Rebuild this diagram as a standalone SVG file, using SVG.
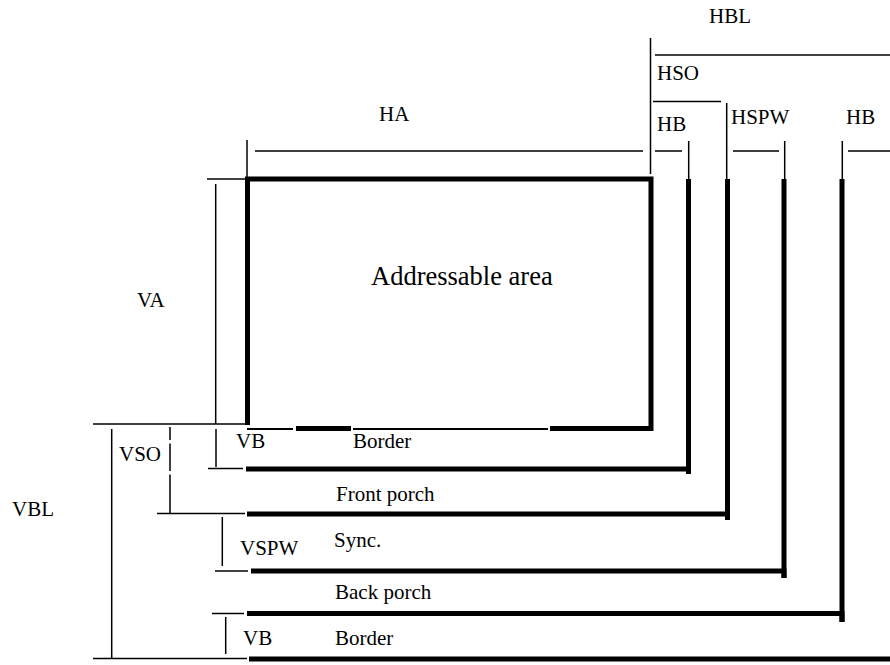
<svg xmlns="http://www.w3.org/2000/svg" width="890" height="665" viewBox="0 0 890 665">
<style>
.bg{fill:#fff}
.thin{stroke:#000;stroke-width:1.5;fill:none}
.thick{stroke:#000;stroke-width:5;fill:none}
.mid{stroke:#000;stroke-width:2;fill:none}
text{font-family:"Liberation Serif","Times New Roman",serif;font-size:21px;fill:#000}
.big{font-size:26.5px}
</style>
<rect class="bg" x="0" y="0" width="890" height="665"/>
<g id="addressable-area">
<path class="thick" d="M247.5 425 V179 H651 V431"/>
<path class="thick" d="M296 428.5 H351 M550 428.5 H653"/>
<path class="mid" d="M247 429 H293 M353 429 H548"/>
<text class="big" x="371" y="285">Addressable area</text>
</g>
<g id="border-band">
<path class="thick" d="M246 469 H688.5 V474"/>
<path class="thick" d="M688.5 179 V474"/>
<text x="353" y="448">Border</text>
</g>
<g id="front-porch-band">
<path class="thick" d="M247 514 H727.5 V520"/>
<path class="thick" d="M727.5 179 V520"/>
<text x="336" y="501">Front porch</text>
</g>
<g id="sync-band">
<path class="thick" d="M251 571 H784 V578"/>
<path class="thick" d="M784 179 V578"/>
<text x="334" y="547">Sync.</text>
</g>
<g id="back-porch-band">
<path class="thick" d="M247 613.5 H842 V622"/>
<path class="thick" d="M842 179 V622"/>
<text x="335" y="599">Back porch</text>
</g>
<g id="bottom-border-band">
<path class="thick" d="M249 659 H890"/>
<text x="335" y="645">Border</text>
</g>
<g id="connectors">
<path class="thin" d="M650.5 38 V174"/>
<path class="thin" d="M655 55 H890"/>
<path class="thin" d="M653 101.5 H721"/>
<path class="thin" d="M726.7 103 V180"/>
<path class="thin" d="M255 151 H643 M655 151 H682 M733 151 H779 M848 151 H890"/>
<path class="thin" d="M247 140 V177"/>
<path class="thin" d="M688.7 141 V180 M784.7 141 V180 M842.3 141 V180"/>
<path class="thin" d="M207 179 H246"/>
<path class="thin" d="M215.7 184 V424"/>
<path class="thin" d="M93 424 H245"/>
<path class="thin" d="M216 429 V467"/>
<path class="thin" d="M208 468.5 H243"/>
<path class="thin" d="M170 427 V440 M170 443.5 V471 M170 474.5 V513"/>
<path class="thin" d="M157 513.5 H245"/>
<path class="thin" d="M222.3 517 V566"/>
<path class="thin" d="M215 571 H248"/>
<path class="thin" d="M212 613.5 H244"/>
<path class="thin" d="M225.7 617 V654"/>
<path class="thin" d="M93 658.5 H247"/>
<path class="thin" d="M111.7 429 V658"/>
</g>
<g id="labels">
<text x="709" y="23">HBL</text>
<text x="657" y="80">HSO</text>
<text x="657" y="131">HB</text>
<text x="731" y="124">HSPW</text>
<text x="846" y="124">HB</text>
<text x="379" y="121">HA</text>
<text x="137" y="307">VA</text>
<text x="119" y="461">VSO</text>
<text x="236" y="448">VB</text>
<text x="240" y="555">VSPW</text>
<text x="243" y="645">VB</text>
<text x="12" y="516">VBL</text>
</g>
</svg>
